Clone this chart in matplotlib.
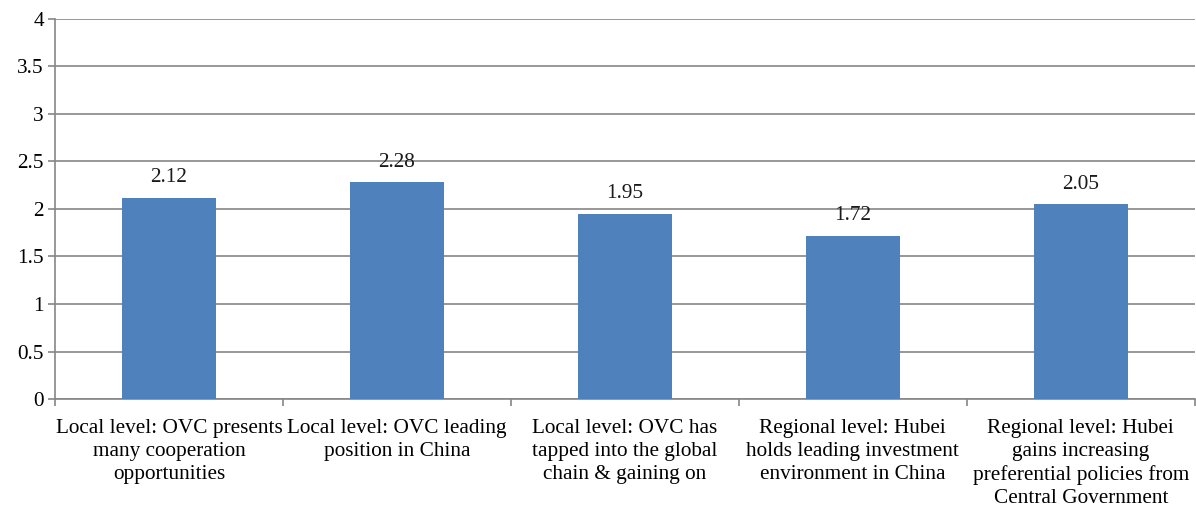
import matplotlib.pyplot as plt
import numpy as np

plt.rcParams['font.family'] = ['Liberation Serif', 'DejaVu Serif']

categories = [
    "Local level: OVC presents\nmany cooperation\nopportunities",
    "Local level: OVC leading\nposition in China",
    "Local level: OVC has\ntapped into the global\nchain & gaining on",
    "Regional level: Hubei\nholds leading investment\nenvironment in China",
    "Regional level: Hubei\ngains increasing\npreferential policies from\nCentral Government",
]
values = [2.12, 2.28, 1.95, 1.72, 2.05]
yticks = [0, 0.5, 1, 1.5, 2, 2.5, 3, 3.5, 4]

fs = 15.3
fig = plt.figure(figsize=(11.96, 5.09), dpi=100)
ax = fig.add_axes([0.046, 0.216, 0.953, 0.747])

x = np.arange(len(values))
bars = ax.bar(x, values, width=0.41, color='#4F81BD', zorder=3)
for b, v in zip(bars, values):
    ax.text(b.get_x() + b.get_width() / 2, v + 0.11, f"{v:.2f}",
            ha='center', va='bottom', fontsize=fs, color='#1a1a1a')

grey = '#868686'
ax.set_ylim(0, 4)
ax.set_xlim(-0.5, len(values) - 0.5)
ax.set_yticks(yticks)
ax.set_yticklabels([f"{t:g}" for t in yticks], fontsize=fs)
ax.yaxis.grid(True, color=grey, linewidth=1.2, zorder=0)
ax.set_axisbelow(True)

# category labels centred, separator ticks at boundaries
ax.set_xticks(np.arange(-0.5, len(values)))
ax.set_xticklabels([])
ax.set_xticks(x, minor=True)
ax.set_xticklabels(categories, minor=True, fontsize=fs, linespacing=1.3)
ax.tick_params(axis='x', which='minor', length=0, pad=14)
ax.tick_params(axis='x', which='major', length=5, color=grey, width=1.2)
ax.tick_params(axis='y', length=5, color=grey, width=1.2, pad=3)

for s in ['top', 'right']:
    ax.spines[s].set_visible(False)
for s in ['left', 'bottom']:
    ax.spines[s].set_color(grey)
    ax.spines[s].set_linewidth(1.2)

plt.savefig("out.png", dpi=100)
